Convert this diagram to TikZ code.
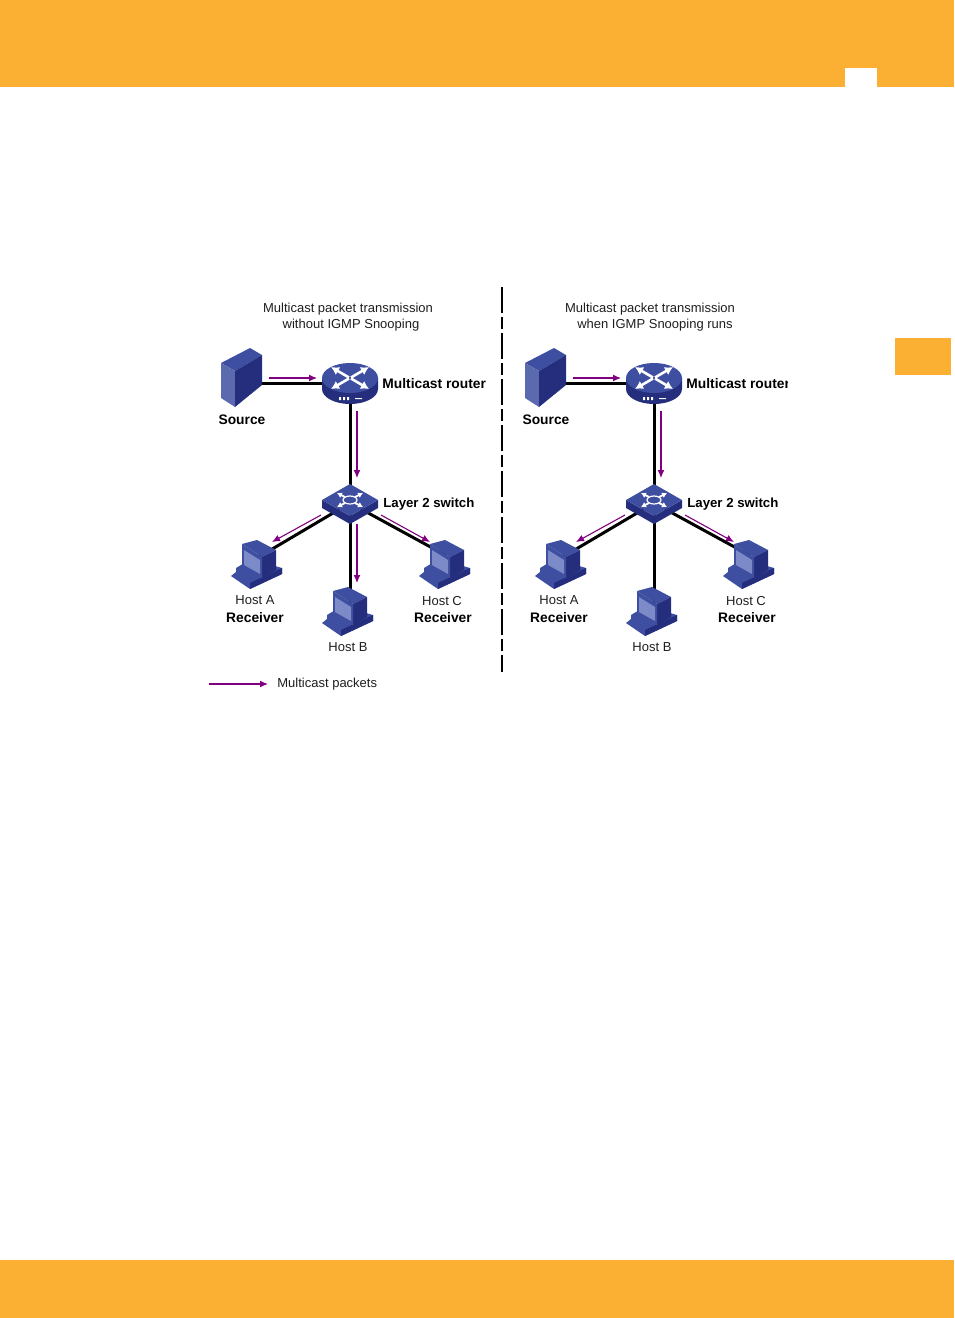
\documentclass[tikz,border=0pt]{standalone}
\usepackage{fontspec}
\setmainfont{Liberation Sans}
\usetikzlibrary{calc,positioning,arrows.meta}
\definecolor{bandcol}{RGB}{251,176,52}
\definecolor{packetcol}{RGB}{128,0,128}
\definecolor{iconcol}{RGB}{62,78,160}
\definecolor{icondark}{RGB}{36,46,125}
\definecolor{iconlight}{RGB}{125,138,200}
\definecolor{textcol}{RGB}{30,30,30}
\tikzset{
  link/.style={line width=1.5pt, black},
  packet/.style={packetcol, line width=0.55pt, -{Latex[length=4pt,width=3.5pt]}},
  plain/.style={font=\fontsize{6.5}{8}\selectfont, text=textcol, inner sep=0pt},
  bold/.style={font=\fontsize{6.9}{8}\selectfont\bfseries, text=black, inner sep=0pt},
  anchornode/.style={inner sep=0pt, minimum size=0pt},
  server/.pic={
    \fill[iconcol] (-21,-20) -- (8,-35) -- (20,-28) -- (-7,-12) -- cycle;
    \fill[iconcol!85!white] (-21,-20) -- (-7,-12) -- (-7,24) -- (-21,15) -- cycle;
    \fill[icondark] (-7,-12) -- (20,-28) -- (20,2) -- (-7,24) -- cycle;
  },
  router/.pic={
    \fill[icondark] (-28,-5) -- (-28,6) arc[start angle=180, end angle=0, x radius=28, y radius=15] -- (28,-5) -- cycle;
    \fill[iconcol] (0,-5) ellipse[x radius=28, y radius=15];
    \foreach \sx/\sy in {-1/-1,1/-1,-1/1,1/1}{
      \draw[white, line width=1.3pt, -{Latex[length=4pt,width=4.5pt]}] (\sx*1,-5+\sy*0.5) -- (\sx*19,-5+\sy*11);
    }
    \fill[white] (-11,14) rectangle (-9,17) (-7,14) rectangle (-5,17) (-3,14) rectangle (-1,17) (5,15) rectangle (12,16);
  },
  switchbox/.pic={
    \fill[icondark] (-28,-3) -- (0,13) -- (28,-3) -- (28,5) -- (0,21) -- (-28,5) -- cycle;
    \fill[iconcol] (-28,-3) -- (0,-19) -- (28,-3) -- (0,13) -- cycle;
    \draw[white, line width=0.6pt] (0,-3) ellipse[x radius=7, y radius=4];
    \foreach \sx/\sy in {-1/-1,1/-1,-1/1,1/1}{
      \draw[white, line width=0.9pt, -{Latex[length=2.5pt,width=3pt]}] (\sx*5,-3+\sy*3) -- (\sx*13,-3+\sy*7);
    }
  },
  hostpc/.pic={
    \fill[iconcol] (-21,3) -- (-6,-6) -- (25,3) -- (25,9) -- (-7,24) -- (-26,11) -- (-21,7) -- cycle;
    \fill[icondark] (-7,18) -- (25,3) -- (25,9) -- (-7,24) -- cycle;
    \fill[iconcol] (-15,-21) -- (0,-25) -- (19,-15) -- (5,-8) -- cycle;
    \fill[icondark] (5,-8) -- (19,-15) -- (19,5) -- (5,13) -- cycle;
    \fill[iconcol] (-15,-21) -- (5,-8) -- (5,13) -- (-15,1) -- cycle;
    \fill[iconlight] (-13,-15) -- (3,-5) -- (3,9) -- (-13,0) -- cycle;
  }
}

\begin{document}
\begin{tikzpicture}[x=0.5pt, y=-0.5pt]
  \useasboundingbox (0,0) rectangle (954,1318);
  % Bands and tabs
  \fill[bandcol] (0,0) rectangle (954,87);
  \fill[white] (845,68) rectangle (877,87);
  \fill[bandcol] (895,338) rectangle (951,375);
  \fill[bandcol] (0,1260) rectangle (954,1318);
  % Divider
  \draw[line width=1.2pt, dash pattern=on 13pt off 2pt on 6pt off 2pt] (502,287) -- (502,672);
  % Both panels
  \foreach \p/\dx in {l/0, r/304}{
    \begin{scope}[xshift=\dx*0.5pt]
    \node[anchornode] (\p src) at (242,383) {};
    \node[anchornode] (\p rtr) at (350,383) {};
    \node[anchornode] (\p sw) at (350,503) {};
    \node[anchornode] (\p hosta) at (257,558) {};
    \node[anchornode] (\p hostb) at (350,612) {};
    \node[anchornode] (\p hostc) at (447,556) {};
    \draw[link] (\p src) -- (\p rtr);
    \draw[link] (\p rtr) -- (\p sw);
    \draw[link] (\p sw) -- (\p hosta);
    \draw[link] (\p sw) -- (\p hostb);
    \draw[link] (\p sw) -- (\p hostc);
    \pic at (242,383) {server};
    \pic at (350,383) {router};
    \pic at (350,503) {switchbox};
    \foreach \x/\y in {257/565, 348/612, 445/565}{
      \pic at (\x,\y) {hostpc};
    }
    \coordinate (\p a1) at (269,378);
    \coordinate (\p a2) at (317,378);
    \coordinate (\p b1) at (357,411);
    \coordinate (\p b2) at (357,478);
    \coordinate (\p c1) at (321,515);
    \coordinate (\p c2) at (272,542);
    \coordinate (\p d1) at (381,515);
    \coordinate (\p d2) at (430,542);
    \draw[packet] (\p a1) -- (\p a2);
    \draw[packet] (\p b1) -- (\p b2);
    \draw[packet] (\p c1) -- (\p c2);
    \draw[packet] (\p d1) -- (\p d2);
    \node[bold] (\p srclabel) at (242,420) {Source};
    \node[bold, right, font=\fontsize{6.6}{8}\selectfont\bfseries] (\p swlabel) at (383,504) {Layer 2 switch};
    \node[plain] (\p hostalabel) at (255,600) {Host A};
    \node[bold] (\p recvalabel) at (255,618) {Receiver};
    \node[plain] (\p hostblabel) at (348,647) {Host B};
    \node[plain] (\p hostclabel) at (442,601) {Host C};
    \node[bold] (\p recvclabel) at (443,618) {Receiver};
    \end{scope}
  }
  % Labels that differ
  \node[plain] (ltitle1) at (348,309) {Multicast packet transmission};
  \node[plain] (ltitle2) at (351,325) {without IGMP Snooping};
  \node[plain] (rtitle1) at (650,309) {Multicast packet transmission};
  \node[plain] (rtitle2) at (655,325) {when IGMP Snooping runs};
  \node[bold, right] (lrtrlabel) at (382,384) {Multicast router};
  \begin{scope}
    \clip (680,370) rectangle (787,396);
    \node[bold, right] (rrtrlabel) at (686,384) {Multicast router};
  \end{scope}
  \coordinate (bhead) at (357,524);
  \coordinate (btail) at (357,583);
  \draw[packet] (bhead) -- (btail);
  % Legend
  \coordinate (legstart) at (209,684);
  \coordinate (legend) at (268,684);
  \draw[packet] (legstart) -- (legend);
  \node[plain, right] (leglabel) at (277,684) {Multicast packets};
\end{tikzpicture}
\end{document}
